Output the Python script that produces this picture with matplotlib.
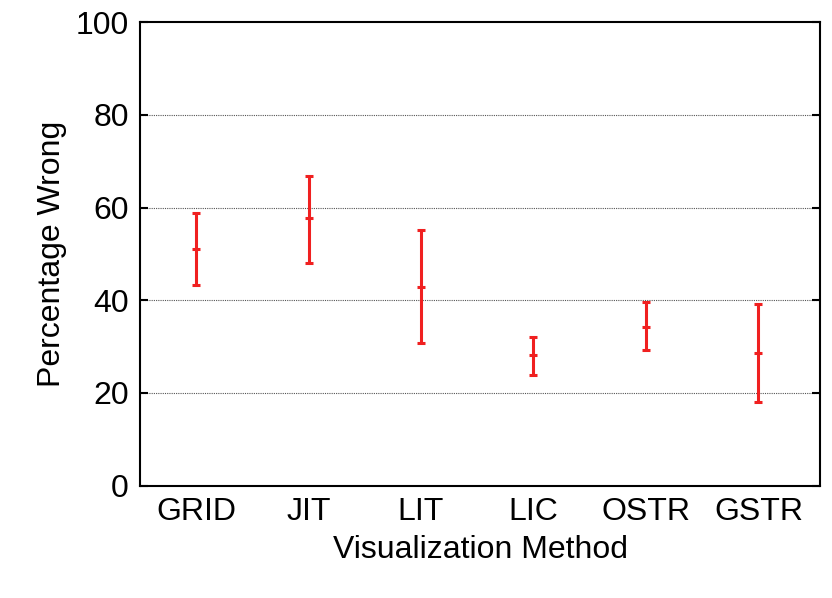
import matplotlib.pyplot as plt

methods = ["GRID", "JIT", "LIT", "LIC", "OSTR", "GSTR"]
means = [51.1, 57.8, 42.9, 28.2, 34.3, 28.6]
upper = [58.8, 66.8, 55.2, 32.1, 39.7, 39.2]
lower = [43.3, 48.1, 30.8, 23.9, 29.3, 18.1]

plt.rcParams["font.family"] = "Liberation Sans"
fig = plt.figure(figsize=(8.32, 5.98), dpi=100)
ax = fig.add_axes([0.168, 0.188, 0.818, 0.775])

x = list(range(len(methods)))
yerr = [[m - l for m, l in zip(means, lower)], [u - m for m, u in zip(means, upper)]]
ax.errorbar(x, means, yerr=yerr, fmt="_", color="#f02020", ecolor="#f02020",
            elinewidth=2.2, capsize=3, capthick=2.2, markersize=6, markeredgewidth=2.2)

ax.set_xlim(-0.5, 5.55)
ax.set_ylim(0, 100)
ax.set_yticks([0, 20, 40, 60, 80, 100])
ax.set_xticks(x)
ax.set_xticklabels(methods)
for y in [20, 40, 60, 80]:
    ax.axhline(y, color="#555555", linestyle=(0, (1, 1)), linewidth=0.8, zorder=0)
ax.tick_params(axis="both", labelsize=23, pad=8)
ax.tick_params(axis="x", length=0)
ax.tick_params(axis="y", direction="in", length=6, width=1.5, right=True)
for s in ax.spines.values():
    s.set_linewidth(1.5)
ax.set_xlabel("Visualization Method", fontsize=23, labelpad=6)
ax.set_ylabel("Percentage Wrong", fontsize=23, labelpad=6)

fig.savefig("out.png")
